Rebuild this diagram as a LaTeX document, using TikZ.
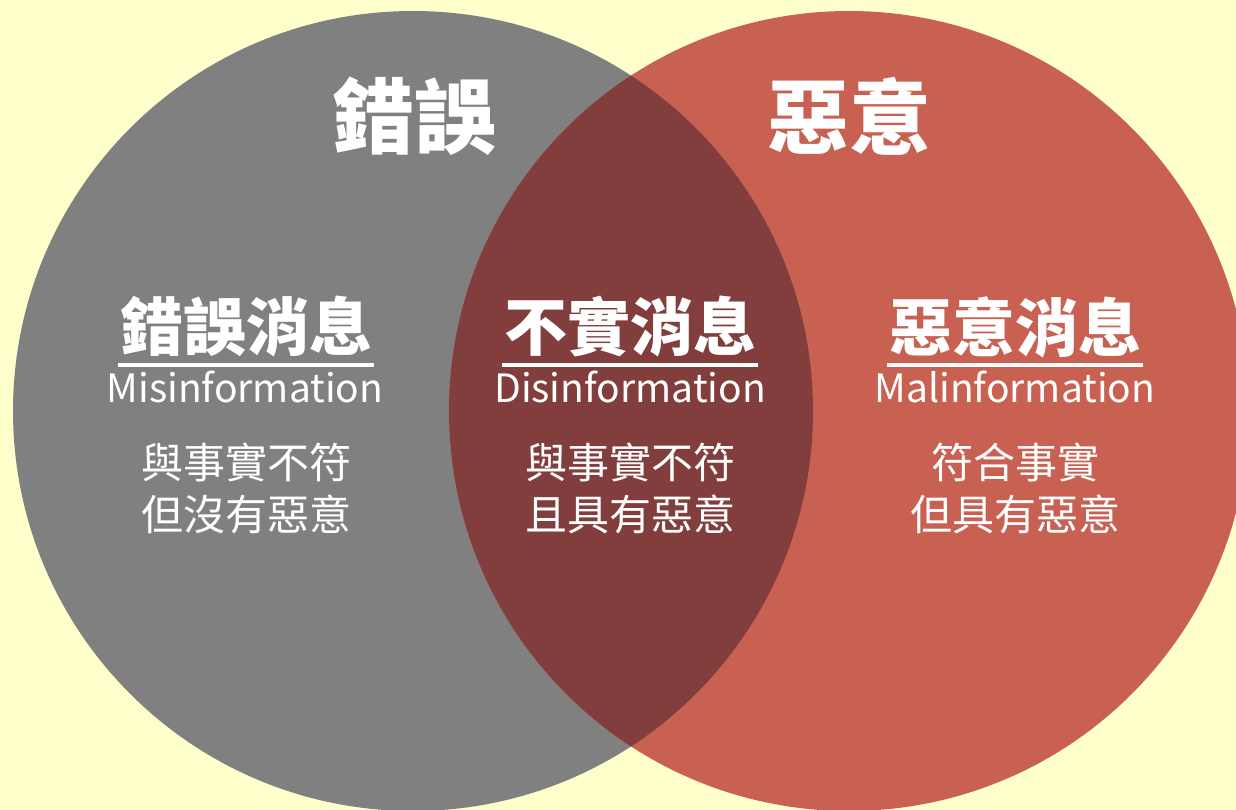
\documentclass[tikz,border=0pt]{standalone}
\usepackage{fontspec}
\setmainfont{Noto Sans CJK TC}
\usetikzlibrary{positioning}

\definecolor{bgyellow}{HTML}{FFFFCC}
\definecolor{misgray}{HTML}{808080}
\definecolor{malred}{HTML}{C86152}
\definecolor{disred}{HTML}{823D3D}

\tikzset{
  bigtitle/.style={text=white,font=\fontsize{82}{90}\selectfont\bfseries,inner sep=0pt},
  headtext/.style={text=white,font=\fontsize{63}{70}\selectfont\bfseries,inner xsep=2pt,inner ysep=0pt},
  engtext/.style={text=white,font=\fontsize{39}{42}\selectfont,anchor=base,inner sep=0pt},
  bodytext/.style={text=white,font=\fontsize{42}{52}\selectfont,align=center,inner sep=0pt},
  underline/.style={white,line width=3.5pt}
}

\begin{document}
\begin{tikzpicture}[x=1pt,y=-1pt]
\fill[bgyellow] (0,0) rectangle (1236,810);
\useasboundingbox (0,0) rectangle (1236,810);
\clip (0,0) rectangle (1236,810);

% the two sets and their overlap
\fill[misgray] (413,411) circle (400pt);
\fill[malred] (849,411) circle (400pt);
\begin{scope}
\clip (413,411) circle (400pt);
\fill[disred] (849,411) circle (400pt);
\end{scope}

\node[bigtitle] (mistitle) at (414,116) {錯誤};
\node[bigtitle] (maltitle) at (849,116) {惡意};

\coordinate (ruley) at (0,365);

% left
\node[headtext] (mishead) at (246,327) {錯誤消息};
\draw[underline] (mishead.west |- ruley) -- (mishead.east |- ruley);
\node[engtext] (miseng) at (245,402) {Misinformation};
\node[bodytext] (misbody) at (246,488) {與事實不符\\但沒有惡意};

% middle
\node[headtext] (dishead) at (630,327) {不實消息};
\draw[underline] (dishead.west |- ruley) -- (dishead.east |- ruley);
\node[engtext] (diseng) at (630,402) {Disinformation};
\node[bodytext] (disbody) at (630,488) {與事實不符\\且具有惡意};

% right
\node[headtext] (malhead) at (1015,327) {惡意消息};
\draw[underline] (malhead.west |- ruley) -- (malhead.east |- ruley);
\node[engtext] (maleng) at (1015,402) {Malinformation};
\node[bodytext] (malbody) at (1015,488) {符合事實\\但具有惡意};
\end{tikzpicture}
\end{document}
